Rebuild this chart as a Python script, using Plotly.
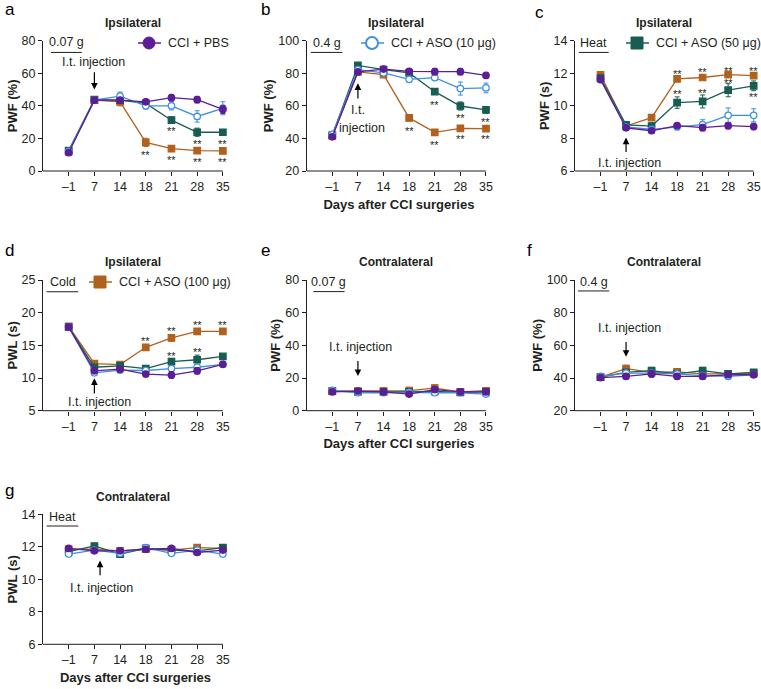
import plotly.graph_objects as go

# ---------------- data ----------------
days = ["\u20131", "7", "14", "18", "21", "28", "35"]
groups = ["CCI + PBS", "CCI + ASO (10 μg)", "CCI + ASO (50 μg)", "CCI + ASO (100 μg)"]
colors = ["#5b1e96", "#3d8fe3", "#185c52", "#b1611d"]

# a: Ipsilateral, 0.07 g, PWF (%)
a_pbs = [11.2, 43.5, 43.5, 42.5, 45.0, 43.8, 37.8]
a_aso10 = [12.0, 43.5, 46.0, 40.0, 40.0, 33.5, 38.5]
a_aso50 = [12.5, 43.8, 43.5, 41.5, 31.2, 23.8, 23.8]
a_aso100 = [12.0, 43.5, 42.5, 17.6, 13.7, 12.5, 12.3]
a_pbs_sem = [1.5, 1.5, 1.5, 1.5, 2.0, 2.0, 2.5]
a_aso10_sem = [1.0, 1.5, 2.5, 2.0, 2.5, 3.5, 4.0]
a_aso50_sem = [1.5, 1.5, 1.5, 1.5, 2.0, 2.5, 1.5]
a_aso100_sem = [1.0, 1.5, 2.5, 2.5, 1.5, 1.5, 1.5]

# b: Ipsilateral, 0.4 g, PWF (%)
b_pbs = [41.0, 80.8, 82.6, 81.2, 81.0, 81.0, 78.7]
b_aso10 = [42.5, 82.2, 80.2, 76.3, 77.3, 70.6, 71.0]
b_aso50 = [42.0, 84.8, 82.3, 80.2, 68.7, 59.9, 57.5]
b_aso100 = [41.5, 80.8, 79.2, 52.6, 43.7, 46.2, 46.0]
b_pbs_sem = [1.0, 1.5, 1.5, 1.5, 2.0, 2.0, 1.2]
b_aso10_sem = [1.0, 1.5, 1.5, 2.0, 1.5, 4.0, 3.0]
b_aso50_sem = [1.0, 1.5, 1.0, 1.5, 1.5, 2.5, 2.0]
b_aso100_sem = [1.0, 1.5, 1.0, 2.0, 1.5, 1.5, 1.5]

# c: Ipsilateral, Heat, PWF (s)
c_pbs = [11.62, 8.65, 8.47, 8.79, 8.66, 8.78, 8.73]
c_aso10 = [11.6, 8.7, 8.55, 8.72, 8.85, 9.42, 9.42]
c_aso50 = [11.7, 8.83, 8.76, 10.2, 10.27, 10.96, 11.23]
c_aso100 = [11.9, 8.76, 9.28, 11.66, 11.74, 11.92, 11.86]
c_pbs_sem = [0.15, 0.15, 0.15, 0.12, 0.2, 0.2, 0.2]
c_aso10_sem = [0.15, 0.15, 0.15, 0.2, 0.3, 0.45, 0.4]
c_aso50_sem = [0.1, 0.15, 0.2, 0.35, 0.4, 0.4, 0.3]
c_aso100_sem = [0.1, 0.1, 0.15, 0.15, 0.15, 0.15, 0.12]

# d: Ipsilateral, Cold, PWL (s)
d_pbs = [17.8, 11.1, 11.35, 10.6, 10.45, 11.1, 12.1]
d_aso10 = [17.8, 10.8, 11.2, 11.15, 11.45, 11.65, 12.1]
d_aso50 = [17.8, 11.65, 11.85, 11.45, 12.5, 12.8, 13.3]
d_aso100 = [17.9, 12.2, 12.05, 14.7, 16.15, 17.15, 17.15]
d_pbs_sem = [0.2, 0.3, 0.3, 0.4, 0.5, 0.5, 0.3]
d_aso10_sem = [0.2, 0.3, 0.3, 0.3, 0.3, 0.5, 0.4]
d_aso50_sem = [0.2, 0.3, 0.3, 0.3, 0.5, 0.7, 0.3]
d_aso100_sem = [0.2, 0.3, 0.3, 0.3, 0.5, 0.3, 0.4]

# e: Contralateral, 0.07 g, PWF (%)
e_pbs = [11.5, 12.0, 11.5, 10.2, 12.9, 11.5, 11.5]
e_aso10 = [12.5, 11.0, 11.0, 11.3, 11.0, 11.0, 10.2]
e_aso50 = [12.0, 11.5, 11.5, 11.5, 11.8, 11.2, 11.5]
e_aso100 = [12.0, 12.0, 12.0, 12.3, 13.8, 11.5, 12.2]
e_pbs_sem = [1.5, 1.5, 1.5, 1.2, 1.5, 1.5, 1.5]
e_aso10_sem = [1.5, 1.2, 1.2, 1.5, 1.2, 1.2, 1.2]
e_aso50_sem = [1.5, 1.5, 1.5, 1.5, 1.5, 1.5, 1.5]
e_aso100_sem = [1.5, 1.5, 2.0, 2.0, 2.0, 1.5, 2.0]

# f: Contralateral, 0.4 g, PWF (%)
f_pbs = [40.2, 41.0, 42.5, 41.0, 41.0, 42.0, 42.0]
f_aso10 = [41.0, 43.0, 43.0, 42.5, 41.5, 41.0, 42.0]
f_aso50 = [40.5, 43.5, 44.5, 42.5, 44.5, 42.5, 43.5]
f_aso100 = [40.5, 45.8, 43.5, 43.8, 42.5, 42.5, 43.0]
f_pbs_sem = [1.0, 1.5, 2.0, 1.5, 1.5, 1.5, 1.5]
f_aso10_sem = [1.0, 1.5, 1.5, 1.5, 1.5, 1.5, 1.5]
f_aso50_sem = [1.0, 1.5, 2.0, 1.5, 2.0, 1.5, 1.5]
f_aso100_sem = [1.0, 2.0, 1.5, 2.0, 1.5, 1.5, 1.5]

# g: Contralateral, Heat, PWL (s)
g_pbs = [11.9, 11.75, 11.75, 11.85, 11.9, 11.65, 11.8]
g_aso10 = [11.55, 11.8, 11.6, 11.95, 11.6, 11.8, 11.55]
g_aso50 = [11.7, 12.05, 11.55, 11.9, 11.8, 11.75, 11.95]
g_aso100 = [11.85, 11.85, 11.75, 11.85, 11.8, 11.95, 11.9]
g_pbs_sem = [0.1, 0.1, 0.1, 0.1, 0.1, 0.1, 0.1]
g_aso10_sem = [0.1, 0.1, 0.1, 0.1, 0.1, 0.1, 0.1]
g_aso50_sem = [0.1, 0.1, 0.1, 0.1, 0.1, 0.1, 0.1]
g_aso100_sem = [0.1, 0.1, 0.1, 0.1, 0.1, 0.1, 0.1]

# significance marks ("**"): (day, y)
a_stars = [("18", 11.9), ("21", 26.2), ("21", 8.4), ("28", 18.4), ("28", 7.6), ("35", 18.4), ("35", 7.6)]
b_stars = [("18", 46.6), ("21", 62.6), ("21", 38.0), ("28", 54.4), ("28", 41.5), ("35", 51.9), ("35", 41.5)]
c_stars = [("18", 12.16), ("21", 12.26), ("28", 12.34), ("35", 12.34),
           ("18", 10.93), ("21", 10.97), ("28", 11.59), ("35", 10.7)]
d_stars = [("18", 16.07), ("21", 17.6), ("28", 18.5), ("35", 18.5), ("21", 13.9), ("28", 14.4)]

# ---------------- layout helpers ----------------
W, H = 761, 689
FONT = "Liberation Sans, Arial, Helvetica, sans-serif"
AX = "#231f20"


def px_x(p):
    return p / W


def px_y(p):
    return 1 - p / H


cols = [(43, 228), (306.7, 491.1), (575, 758.8)]
rows = [(40.7, 171), (280, 410.7), (514.3, 644.3)]

panels = [
    dict(k="a", col=0, row=0, data=[a_pbs, a_aso10, a_aso50, a_aso100],
         sem=[a_pbs_sem, a_aso10_sem, a_aso50_sem, a_aso100_sem], yr=[0, 80], dt=20,
         yt="PWF (%)", title="Ipsilateral", xt=False, stim="0.07 g", stars=a_stars),
    dict(k="b", col=1, row=0, data=[b_pbs, b_aso10, b_aso50, b_aso100],
         sem=[b_pbs_sem, b_aso10_sem, b_aso50_sem, b_aso100_sem], yr=[20, 100], dt=20,
         yt="PWF (%)", title="Ipsilateral", xt=True, stim="0.4 g", stars=b_stars),
    dict(k="c", col=2, row=0, data=[c_pbs, c_aso10, c_aso50, c_aso100],
         sem=[c_pbs_sem, c_aso10_sem, c_aso50_sem, c_aso100_sem], yr=[6, 14], dt=2,
         yt="PWF (s)", title="Ipsilateral", xt=False, stim="Heat", stars=c_stars),
    dict(k="d", col=0, row=1, data=[d_pbs, d_aso10, d_aso50, d_aso100],
         sem=[d_pbs_sem, d_aso10_sem, d_aso50_sem, d_aso100_sem], yr=[5, 25], dt=5,
         yt="PWL (s)", title="Ipsilateral", xt=False, stim="Cold", stars=d_stars),
    dict(k="e", col=1, row=1, data=[e_pbs, e_aso10, e_aso50, e_aso100],
         sem=[e_pbs_sem, e_aso10_sem, e_aso50_sem, e_aso100_sem], yr=[0, 80], dt=20,
         yt="PWF (%)", title="Contralateral", xt=True, stim="0.07 g", stars=[]),
    dict(k="f", col=2, row=1, data=[f_pbs, f_aso10, f_aso50, f_aso100],
         sem=[f_pbs_sem, f_aso10_sem, f_aso50_sem, f_aso100_sem], yr=[20, 100], dt=20,
         yt="PWF (%)", title="Contralateral", xt=False, stim="0.4 g", stars=[]),
    dict(k="g", col=0, row=2, data=[g_pbs, g_aso10, g_aso50, g_aso100],
         sem=[g_pbs_sem, g_aso10_sem, g_aso50_sem, g_aso100_sem], yr=[6, 14], dt=2,
         yt="PWL (s)", title="Contralateral", xt=True, stim="Heat", stars=[]),
]

# stimulus label: (text x index, text y, line x0, line x1, line y)
stim_pos = {
    "a": (-0.08, 79.0, -0.69, 0.51, 72.8),
    "b": (-0.22, 98.4, -0.84, 0.39, 92.8),
    "c": (-0.26, 13.88, -0.85, 0.32, 13.28),
    "d": (-0.24, 24.7, -0.86, 0.37, 23.2),
    "e": (-0.13, 79.0, -0.74, 0.48, 72.9),
    "f": (-0.27, 99.0, -0.88, 0.34, 93.3),
    "g": (-0.24, 13.86, -0.86, 0.37, 13.28),
}
# injection arrows: (arrow x, tail y, tip y, [(text, x, y), ...])
inj = {
    "a": (1, 61.6, 50.0, [("I.t. injection", 0.97, 67.1)]),
    "b": (1, 63.6, 73.8, [("I.t.", 1.0, 57.4), ("injection", 1.16, 46.6)]),
    "c": (1, 7.08, 8.05, [("I.t. injection", 1.15, 6.51)]),
    "d": (1, 7.4, 9.95, [("I.t. injection", 1.2, 6.38)]),
    "e": (1, 31.4, 21.2, [("I.t. injection", 1.09, 39.2)]),
    "f": (1, 62.9, 53.0, [("I.t. injection", 1.12, 70.4)]),
    "g": (1.22, 10.16, 11.15, [("I.t. injection", 1.28, 9.45)]),
}
letter_pos = {"a": (3, 10), "b": (259, 10), "c": (533, 13), "d": (3, 250),
              "e": (259, 250), "f": (525, 250), "g": (3, 490)}
# legend key per panel: (group index, marker centre x px, centre y px)
legend_for = {"a": (0, 149, 43), "b": (1, 372, 43), "c": (2, 637, 43), "d": (3, 100, 282)}

symbols = ["circle", "circle", "square", "square"]
fills = [colors[0], "white", colors[2], colors[3]]

fig = go.Figure()
layout = dict(width=W, height=H, margin=dict(l=0, r=0, t=0, b=0, autoexpand=False), autosize=False,
              paper_bgcolor="white", plot_bgcolor="white", showlegend=False,
              font=dict(family=FONT, size=12, color=AX))
annotations = []
shapes = []

draw_order = [3, 2, 1, 0]

for i, p in enumerate(panels):
    n = "" if i == 0 else str(i + 1)
    xa, ya = "x" + n, "y" + n
    x0, x1 = cols[p["col"]]
    yt, yb = rows[p["row"]]
    layout["xaxis" + n] = dict(
        domain=[px_x(x0), px_x(x1)], anchor=ya, type="category",
        categoryorder="array", categoryarray=days, range=[-1, 6.2],
        showline=False, showgrid=False, zeroline=False, ticks="outside",
        ticklen=4, tickwidth=1, tickcolor=AX, showticklabels=True, automargin=False,
        tickfont=dict(family=FONT, size=12.5, color=AX),
        title=dict(text="<b>Days after CCI surgeries</b>" if p["xt"] else "",
                   font=dict(family=FONT, size=13, color=AX), standoff=6),
        fixedrange=True)
    layout["yaxis" + n] = dict(
        domain=[px_y(yb), px_y(yt)], anchor=xa, range=p["yr"], dtick=p["dt"],
        tick0=p["yr"][0], showline=True, linecolor=AX, linewidth=1, automargin=False,
        showgrid=False, zeroline=False, ticks="outside", ticklen=4, tickwidth=1,
        tickcolor=AX, tickfont=dict(family=FONT, size=12.5, color=AX),
        title=dict(text="<b>" + p["yt"] + "</b>", font=dict(family=FONT, size=13, color=AX),
                   standoff=1),
        fixedrange=True)
    # x-axis baseline from y-axis to last category
    shapes.append(dict(type="line", xref=xa, yref=ya + " domain", x0=-1, x1=6, y0=0, y1=0,
                       line=dict(color=AX, width=1), layer="above"))

    for gi in draw_order:
        fig.add_trace(go.Scatter(
            x=days, y=p["data"][gi], xaxis=xa, yaxis=ya, mode="lines+markers",
            name=groups[gi], showlegend=False, cliponaxis=False,
            line=dict(color=colors[gi], width=1.3),
            marker=dict(symbol=symbols[gi], size=6.5, color=fills[gi],
                        line=dict(color=colors[gi], width=1.2)),
            error_y=dict(type="data", array=p["sem"][gi], visible=True,
                         color=colors[gi], thickness=1, width=2.5)))

    # legend key (one per panel a-d), drawn as line + symbol + label
    if p["k"] in legend_for:
        gi, cx, cy = legend_for[p["k"]]
        shapes.append(dict(type="line", xref="paper", yref="paper",
                           x0=px_x(cx - 11), x1=px_x(cx + 12), y0=px_y(cy), y1=px_y(cy),
                           line=dict(color=colors[gi], width=1.5)))
        r = 6.0
        shapes.append(dict(type="circle" if symbols[gi] == "circle" else "rect",
                           xref="paper", yref="paper",
                           x0=px_x(cx - r), x1=px_x(cx + r), y0=px_y(cy + r), y1=px_y(cy - r),
                           fillcolor=fills[gi], line=dict(color=colors[gi], width=2 if gi == 1 else 1)))
        annotations.append(dict(text=groups[gi], xref="paper", yref="paper",
                                x=px_x(cx + 17), y=px_y(cy), showarrow=False,
                                xanchor="left", yanchor="middle",
                                font=dict(family=FONT, size=12.5, color=AX)))

    # panel title
    annotations.append(dict(text="<b>" + p["title"] + "</b>", xref="paper", yref="paper",
                            x=px_x((x0 + x0 + (x1 - x0) * 7 / 7.2) / 2), y=px_y(rows[p["row"]][0] - 17.5),
                            showarrow=False, xanchor="center", yanchor="middle",
                            font=dict(family=FONT, size=12, color=AX)))
    # panel letter
    lx, ly = letter_pos[p["k"]]
    annotations.append(dict(text=p["k"], xref="paper", yref="paper", x=px_x(lx), y=px_y(ly),
                            showarrow=False, xanchor="left", yanchor="middle",
                            font=dict(family=FONT, size=17, color="black")))
    # stimulus label and bar
    tx, ty, sx0, sx1, sy = stim_pos[p["k"]]
    annotations.append(dict(text=p["stim"], xref=xa, yref=ya, x=tx, y=ty, showarrow=False,
                            xanchor="center", yanchor="middle",
                            font=dict(family=FONT, size=12.5, color=AX)))
    shapes.append(dict(type="line", xref=xa, yref=ya, x0=sx0, x1=sx1, y0=sy, y1=sy,
                       line=dict(color=AX, width=1)))
    # injection arrow and text
    axx, tail, tip, texts = inj[p["k"]]
    annotations.append(dict(text="", xref=xa, yref=ya, x=axx, y=tip, ax=axx, ay=tail,
                            axref=xa, ayref=ya, showarrow=True, arrowhead=2, arrowsize=1.1,
                            arrowwidth=1.2, arrowcolor="black"))
    for t, txx, tyy in texts:
        annotations.append(dict(text=t, xref=xa, yref=ya, x=txx, y=tyy, showarrow=False,
                                xanchor="center", yanchor="middle",
                                font=dict(family=FONT, size=12.5, color=AX)))
    # significance stars
    for d, sy_ in p["stars"]:
        annotations.append(dict(text="**", xref=xa, yref=ya, x=days.index(d), y=sy_,
                                showarrow=False, xanchor="center", yanchor="middle", yshift=-3,
                                font=dict(family=FONT, size=11, color=AX)))

layout["annotations"] = annotations
layout["shapes"] = shapes
fig.update_layout(**layout)
fig.write_html("out.html", config={"displayModeBar": False},
               post_script="document.body.style.margin='0';document.body.style.overflow='hidden';")
